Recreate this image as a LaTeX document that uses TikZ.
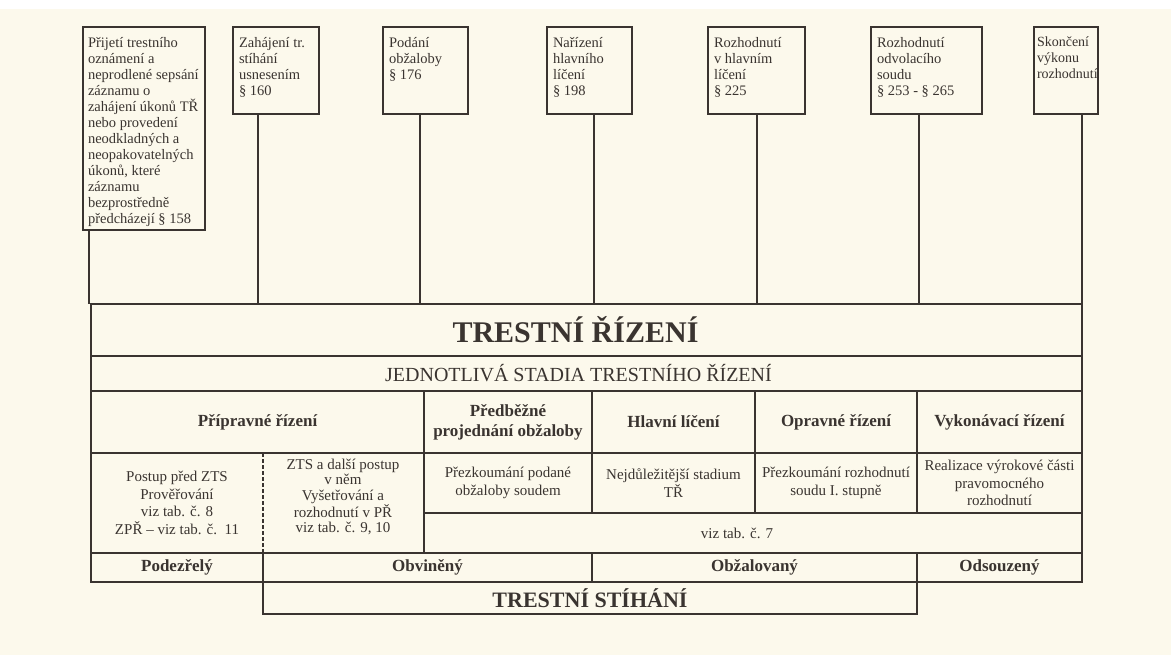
\documentclass[tikz,border=0pt]{standalone}
\usepackage{fontspec}
\setmainfont{Liberation Serif}
\usetikzlibrary{positioning}

\definecolor{ink}{HTML}{3A3430}
\definecolor{paper}{HTML}{FCF9EC}

\tikzset{
  topbox/.style={draw=ink, line width=1.4pt, anchor=north west, inner xsep=6pt, inner ysep=10pt, outer sep=0pt, text=ink, font=\fontsize{14.5}{16}\selectfont},
  tcell/.style={draw=ink, line width=2pt, anchor=north west, inner sep=0pt, outer sep=0pt, text=ink, align=center},
  tlink/.style={draw=ink, line width=1.4pt},
  bigtitle/.style={font=\fontsize{30}{34}\selectfont\bfseries},
  stagehead/.style={font=\fontsize{17}{20}\selectfont\bfseries},
  desctext/.style={text=ink, align=center, font=\fontsize{15}{17.5}\selectfont},
}

\begin{document}
\begin{tikzpicture}[x=1pt,y=-1pt]
\useasboundingbox (0,0) rectangle (1171,655);
\fill [paper] (0,9) rectangle (1171,655);

% milestones
\node (B1) at (83,27) [topbox, inner xsep=5pt] {\parbox[t][183pt][t]{112pt}{\raggedright Přijetí~trestního\\ oznámení~a\\ neprodlené~sepsání\\ záznamu~o\\ zahájení~úkonů~TŘ\\ nebo~provedení\\ neodkladných~a\\ neopakovatelných\\ úkonů,~které\\ záznamu\\ bezprostředně\\ předcházejí~§~158}};
\node (B2) at (233,27) [topbox] {\parbox[t][67pt][t]{74pt}{\raggedright Zahájení tr.\\ stíhání\\ usnesením\\ § 160}};
\node (B3) at (383,27) [topbox] {\parbox[t][67pt][t]{73pt}{\raggedright Podání\\ obžaloby\\ § 176}};
\node (B4) at (547,27) [topbox] {\parbox[t][67pt][t]{73pt}{\raggedright Nařízení\\ hlavního\\ líčení\\ § 198}};
\node (B5) at (708,27) [topbox] {\parbox[t][67pt][t]{85pt}{\raggedright Rozhodnutí\\ v hlavním\\ líčení\\ § 225}};
\node (B6) at (871,27) [topbox] {\parbox[t][67pt][t]{99pt}{\raggedright Rozhodnutí\\ odvolacího\\ soudu\\ § 253 - § 265}};
\node (B7) at (1034,27) [topbox, inner xsep=3pt, font=\fontsize{14}{16}\selectfont] {\parbox[t][67pt][t]{58pt}{\raggedright Skončení\\ výkonu\\ rozhodnutí}};

% table
\node (T1) at (91,304) [tcell, bigtitle, minimum width=991pt, minimum height=52pt] {TRESTNÍ ŘÍZENÍ\hspace*{22pt}};
\node (T2) at (91,356) [tcell, minimum width=991pt, minimum height=35pt, font=\fontsize{20}{24}\selectfont] {JEDNOTLIVÁ STADIA TRESTNÍHO ŘÍZENÍ\hspace*{16pt}};

\node (S1) at (91,391) [tcell, stagehead, minimum width=333pt, minimum height=62pt] {Přípravné řízení};
\node (S2) at (424,391) [tcell, stagehead, minimum width=168pt, minimum height=62pt] {Předběžné\\ projednání obžaloby};
\node (S3) at (592,391) [tcell, stagehead, minimum width=163pt, minimum height=62pt] {Hlavní líčení};
\node (S4) at (755,391) [tcell, stagehead, minimum width=162pt, minimum height=62pt] {Opravné řízení};
\node (S5) at (917,391) [tcell, stagehead, minimum width=165pt, minimum height=62pt] {Vykonávací řízení};

\node (P0) at (91,453) [tcell, minimum width=333pt, minimum height=100pt] {};
\node (P1) at (177,503) [desctext] {Postup před ZTS\\ Prověřování\\ viz tab. č. 8\\ ZPŘ – viz tab. č.~\ 11};
\node (P2) at (343,497) [desctext, font=\fontsize{15}{15.2}\selectfont] {ZTS a další postup\\ v něm\\ Vyšetřování a\\ rozhodnutí v PŘ\\ viz tab. č. 9, 10};
\node (P3) at (424,453) [tcell, desctext, minimum width=168pt, minimum height=60pt] {Přezkoumání podané\\ obžaloby soudem};
\node (P4) at (592,453) [tcell, desctext, minimum width=163pt, minimum height=60pt] {Nejdůležitější stadium\\ TŘ};
\node (P5) at (755,453) [tcell, desctext, minimum width=162pt, minimum height=60pt] {Přezkoumání rozhodnutí\\ soudu I. stupně};
\node (P6) at (917,453) [tcell, desctext, minimum width=165pt, minimum height=60pt] {Realizace výrokové části\\ pravomocného\\ rozhodnutí};
\node (V7) at (424,513) [tcell, desctext, minimum width=658pt, minimum height=40pt] {viz tab. č. 7\hspace*{32pt}};

\node (O1) at (91,553) [tcell, stagehead, minimum width=172pt, minimum height=29pt] {Podezřelý};
\node (O2) at (263,553) [tcell, stagehead, minimum width=329pt, minimum height=29pt] {Obviněný};
\node (O3) at (592,553) [tcell, stagehead, minimum width=325pt, minimum height=29pt] {Obžalovaný};
\node (O4) at (917,553) [tcell, stagehead, minimum width=165pt, minimum height=29pt] {Odsouzený};
\node (TS) at (263,582) [tcell, minimum width=654pt, minimum height=32pt, font=\fontsize{22}{26}\selectfont\bfseries] {TRESTNÍ STÍHÁNÍ};

\draw [draw=ink, line width=1.2pt, dash pattern=on 4pt off 2pt] (P0.north -| O1.east) -- (P0.south -| O1.east);

% connectors
\coordinate (C1) at (89,304);
\coordinate (C2) at (258,304);
\coordinate (C3) at (420,304);
\coordinate (C4) at (594,304);
\coordinate (C5) at (757,304);
\coordinate (C6) at (919,304);
\coordinate (C7) at (1082,304);
\draw [tlink] (C1 |- B1.south) -- (C1);
\draw [tlink] (C2 |- B2.south) -- (C2);
\draw [tlink] (C3 |- B3.south) -- (C3);
\draw [tlink] (C4 |- B4.south) -- (C4);
\draw [tlink] (C5 |- B5.south) -- (C5);
\draw [tlink] (C6 |- B6.south) -- (C6);
\draw [tlink] (C7 |- B7.south) -- (C7);
\end{tikzpicture}
\end{document}
